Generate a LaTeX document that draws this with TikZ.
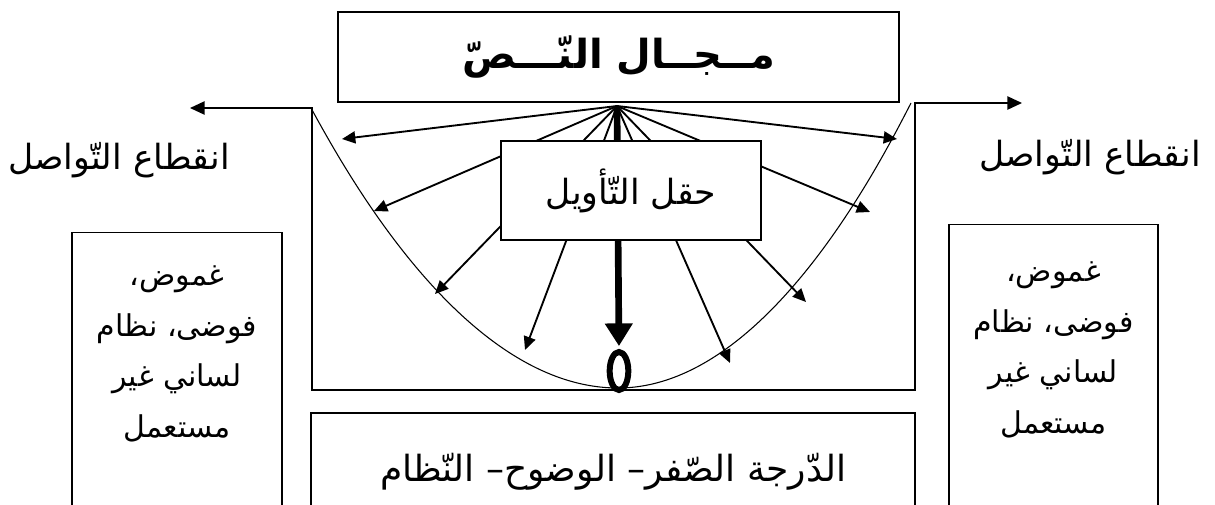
\documentclass[tikz,border=0pt]{standalone}
\usepackage{fontspec}
\newfontfamily\arabicfont[Script=Arabic]{DejaVu Sans}
\TeXXeTstate=1
\usetikzlibrary{arrows.meta,shapes}

\newcommand{\artxt}[1]{{\arabicfont\beginR #1\endR}}

\tikzset{
  box/.style={draw, line width=1.1pt, fill=white, inner sep=0pt},
  fanarrow/.style={line width=1.4pt, -{Triangle[width=9pt,length=10pt]}},
  frame/.style={line width=1.1pt},
  sidetext/.style={align=center, font=\fontsize{22.5}{38}\selectfont},
  cuttext/.style={font=\fontsize{26}{30}\selectfont},
}

\begin{document}
\begin{tikzpicture}[x=0.75pt,y=0.75pt,yscale=-1,xscale=1]
\useasboundingbox (0,0) rectangle (1215,504);

%Frame with the two arrows
\coordinate (outL) at (190,108);
\coordinate (uL) at (312,108);
\coordinate (bR) at (915,390);
\coordinate (uR) at (915,103);
\coordinate (outR) at (1022,103);
\draw [frame, {Triangle[width=10pt,length=11pt]}-{Triangle[width=10pt,length=11pt]}] (outL) -- (uL) |- (bR) -- (uR) -- (outR) ;

%Curve
\coordinate (cL) at (311,108);
\coordinate (cB) at (618,388);
\coordinate (cR) at (911,103);
\draw [line width=0.8pt] (cL) parabola bend (cB) (cR) ;

%Fan of arrows
\coordinate (src) at (617,106);
\foreach \n/\x/\y in {a/342/139, b/374/211, c/435/294, d/525/350, e/730/363, f/806/302, g/870/212, h/897/139}{
  \coordinate (tip\n) at (\x,\y);
  \draw [fanarrow] (src) -- (tip\n) ;
}

%Zero
\node [ellipse, draw, line width=4.5pt, minimum width=14pt, minimum height=28.5pt, inner sep=0pt] (zero) at (619,371) {};
\draw [line width=5pt, -{Triangle[width=20pt,length=17pt]}, shorten >=2.2pt] (src) -- (zero.north) ;

% Text Node
\node [box, minimum width=420.75pt, minimum height=67.5pt, font=\fontsize{30}{36}\selectfont] (field) at (618.5,57) {\textbf{\artxt{مــجــال النّـــصّ}}};
% Text Node
\node [box, minimum width=195pt, minimum height=74.25pt, font=\fontsize{26}{30}\selectfont] (interp) at (631,190.5) {\artxt{حقل التّأويل}};

% Text Node
\node [cuttext] (cutL) at (119,160) {\artxt{انقطاع التّواصل}};
% Text Node
\node [cuttext] (cutR) at (1090,157) {\artxt{انقطاع التّواصل}};

%Side boxes
\node [box, anchor=north, minimum width=157.5pt, minimum height=225pt] (lbox) at (177,232) {};
\node [sidetext] (ltext) at (177,354) {\artxt{غموض،}\\\artxt{فوضى، نظام}\\\artxt{لساني غير}\\\artxt{مستعمل}};
\node [box, anchor=north, minimum width=156.75pt, minimum height=225pt] (rbox) at (1053.5,224) {};
\node [sidetext] (rtext) at (1053.5,350) {\artxt{غموض،}\\\artxt{فوضى، نظام}\\\artxt{لساني غير}\\\artxt{مستعمل}};

% Text Node
\node [box, minimum width=453pt, minimum height=87.75pt, font=\fontsize{27}{32}\selectfont] (zerobox) at (613,471.5) {\artxt{الدّرجة الصّفر– الوضوح– النّظام}};

\end{tikzpicture}
\end{document}
